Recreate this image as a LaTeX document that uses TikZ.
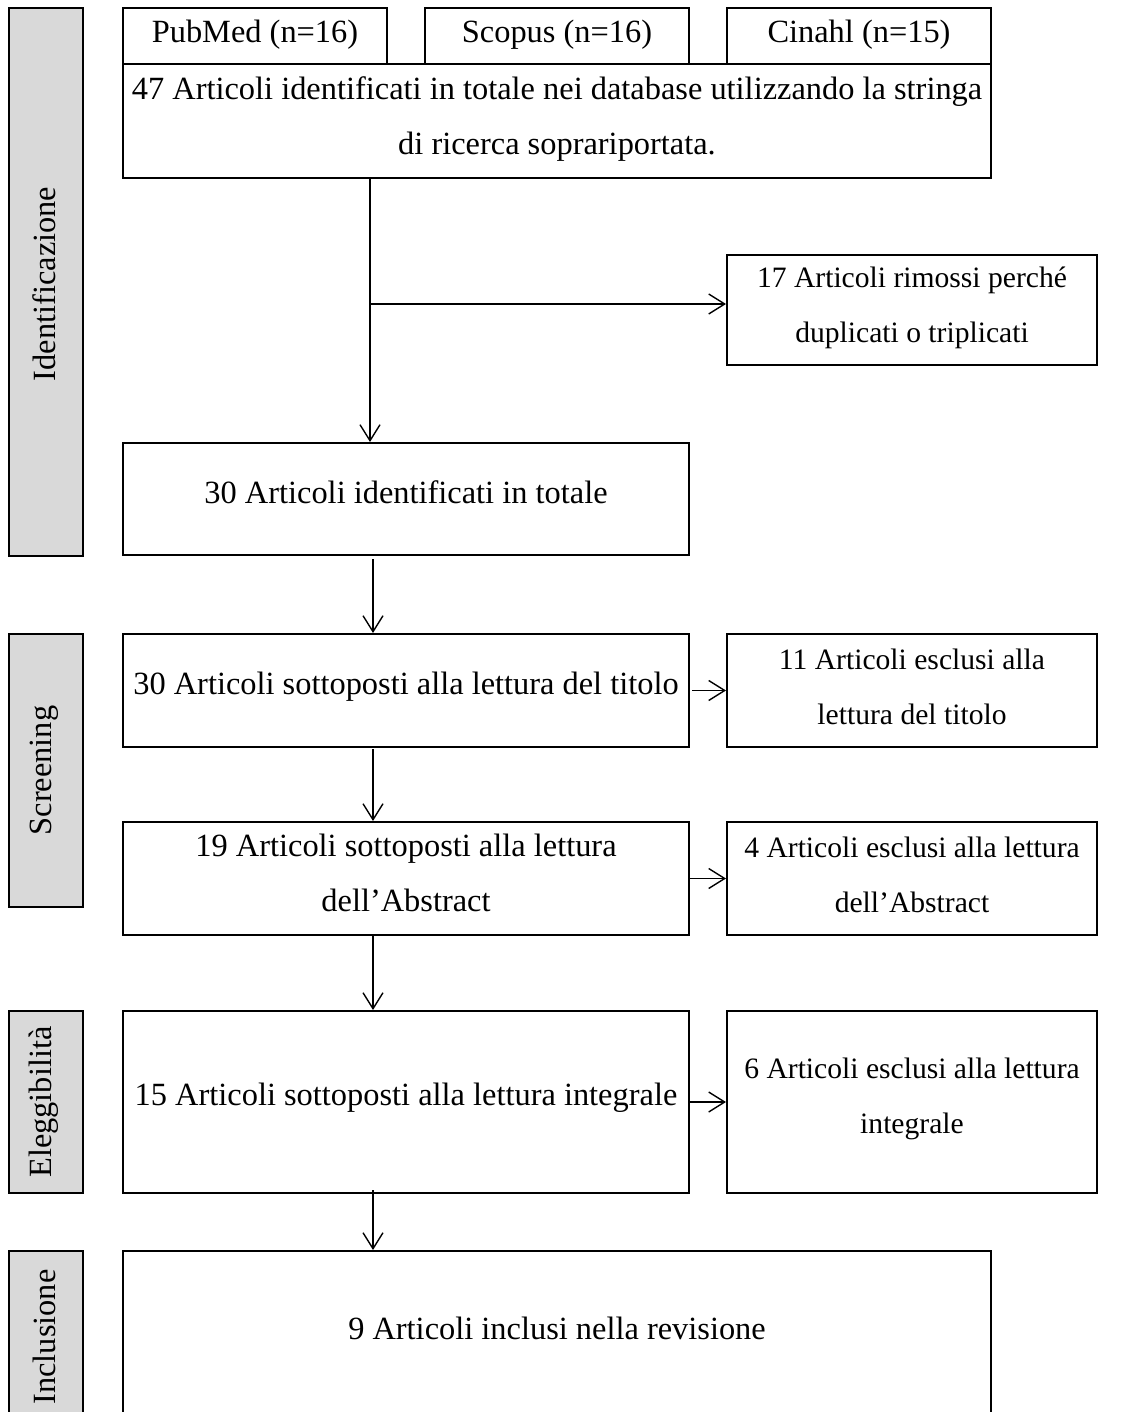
\documentclass[tikz,border=0pt]{standalone}
\usepackage{fontspec}
\setmainfont{Liberation Serif}
\usetikzlibrary{arrows.meta}
\definecolor{barfill}{HTML}{D9D9D9}
\begin{document}
\begin{tikzpicture}[x=0.5pt,y=-0.5pt,
  box/.style={draw,line width=1pt,inner sep=0pt},
  txt/.style={inner sep=0pt,align=center,font=\fontsize{16.2}{27.5}\selectfont},
  rtxt/.style={txt,font=\fontsize{14.8}{27.5}\selectfont},
  bar/.style={draw,fill=barfill,line width=1pt,inner sep=0pt,minimum width=37pt},
  side/.style={rotate=90,inner sep=0pt,font=\fontsize{16.2}{18}\selectfont},
  conn/.style={line width=0.7pt,-{Straight Barb[length=8pt,width=10pt]}},
  plain/.style={line width=0.7pt}]
\useasboundingbox (0,0) rectangle (1125,1412);
\clip (0,0) rectangle (1125,1412);
% phase bars
\node[bar,minimum height=274pt] (barI) at (46,282) {};
\node[bar,minimum height=136.5pt] (barS) at (46,770.5) {};
\node[bar,minimum height=91pt] (barE) at (46,1102) {};
\node[bar,minimum height=87pt] (barN) at (46,1338) {};
\node[side] (tI) at (44,284) {Identificazione};
\node[side] (tS) at (44,770.5) {Screening};
\node[side] (tE) at (44,1102) {Eleggibilità};
\node[side] (tN) at (44,1337) {Inclusione};
% boxes
\node[box,minimum width=132pt,minimum height=28pt] (pub) at (255,36) {};
\node[box,minimum width=132pt,minimum height=28pt] (sco) at (557,36) {};
\node[box,minimum width=132pt,minimum height=28pt] (cin) at (859,36) {};
\node[box,minimum width=434pt,minimum height=57pt] (tot) at (557,121) {};
\node[box,minimum width=185pt,minimum height=55pt] (rem) at (912,310) {};
\node[box,minimum width=283pt,minimum height=56pt] (idt) at (406,499) {};
\node[box,minimum width=283pt,minimum height=56.5pt] (tit) at (406,690.5) {};
\node[box,minimum width=185pt,minimum height=56.5pt] (ex11) at (912,690.5) {};
\node[box,minimum width=283pt,minimum height=56.5pt] (abs) at (406,878.5) {};
\node[box,minimum width=185pt,minimum height=56.5pt] (ex4) at (912,878.5) {};
\node[box,minimum width=283pt,minimum height=91pt] (int) at (406,1102) {};
\node[box,minimum width=185pt,minimum height=91pt] (ex6) at (912,1102) {};
\node[box,minimum width=434pt,minimum height=87pt] (inc) at (557,1338) {};
% texts
\node[txt] (pubT) at ([yshift=0.5pt]pub.center) {PubMed (n=16)};
\node[txt] (scoT) at ([yshift=0.5pt]sco.center) {Scopus (n=16)};
\node[txt] (cinT) at ([yshift=0.5pt]cin.center) {Cinahl (n=15)};
\node[txt] (totT) at ([yshift=1pt]tot.center) {47 Articoli identificati in totale nei database utilizzando la stringa\\di ricerca soprariportata.};
\node[rtxt] (remT) at ([yshift=1pt]rem.center) {17 Articoli rimossi perché\\duplicati o triplicati};
\node[txt] (idtT) at ([yshift=3.5pt]idt.center) {30 Articoli identificati in totale};
\node[txt] (titT) at ([yshift=2pt]tit.center) {30 Articoli sottoposti alla lettura del titolo};
\node[rtxt] (ex11T) at ([yshift=2pt]ex11.center) {11 Articoli esclusi alla\\lettura del titolo};
\node[txt] (absT) at ([yshift=3pt]abs.center) {19 Articoli sottoposti alla lettura\\dell’Abstract};
\node[rtxt] (ex4T) at ([yshift=2pt]ex4.center) {4 Articoli esclusi alla lettura\\dell’Abstract};
\node[txt] (intT) at ([yshift=2pt]int.center) {15 Articoli sottoposti alla lettura integrale};
\node[rtxt] (ex6T) at ([yshift=1.5pt]ex6.center) {6 Articoli esclusi alla lettura\\integrale};
\node[txt] (incT) at ([yshift=5pt]inc.center) {9 Articoli inclusi nella revisione};
% connectors
\coordinate (j1) at (370,304);
\coordinate (c2) at (373,0);
\draw[plain] (tot.south -| j1) -- (j1);
\draw[conn] (j1) -- (idt.north -| j1);
\draw[conn] (j1) -- (j1 -| rem.west);
\draw[conn] ([yshift=-1.5pt]idt.south -| c2) -- (tit.north -| c2);
\draw[conn] ([yshift=-0.5pt]tit.south -| c2) -- (abs.north -| c2);
\draw[conn] (abs.south -| c2) -- (int.north -| c2);
\draw[conn] ([yshift=2pt]int.south -| c2) -- (inc.north -| c2);
\draw[conn] ([xshift=1pt]tit.east) -- (ex11.west);
\draw[conn] (abs.east) -- (ex4.west);
\draw[conn] (int.east) -- (ex6.west);
\end{tikzpicture}
\end{document}
